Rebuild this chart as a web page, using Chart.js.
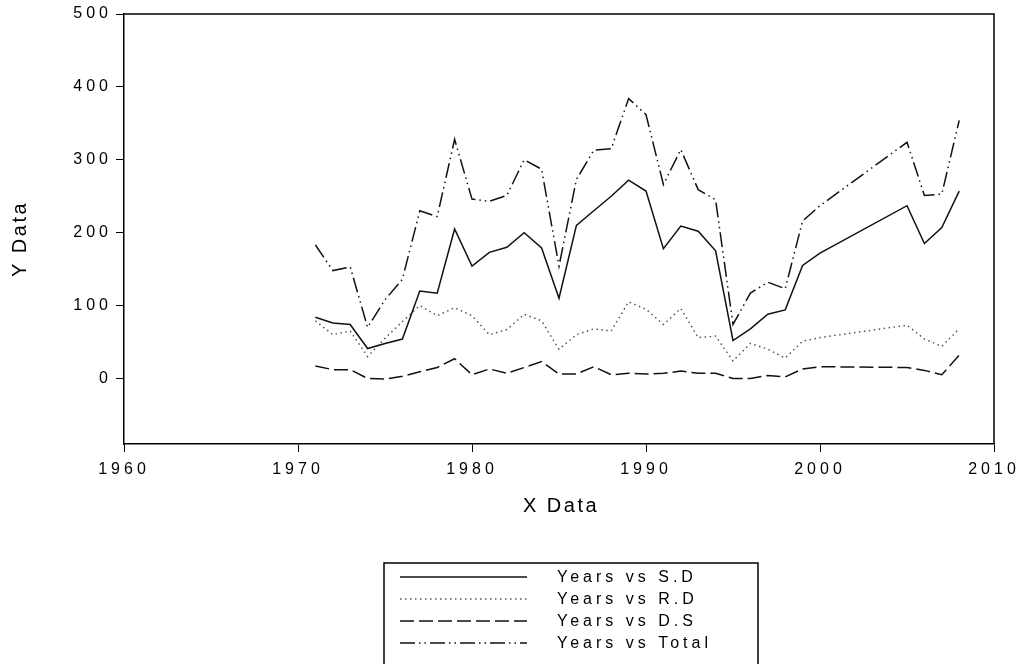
<!DOCTYPE html>
<html>
<head>
<meta charset="utf-8">
<script src="https://cdn.jsdelivr.net/npm/chart.js@4.4.1/dist/chart.umd.min.js"></script>
<style>
  body { margin: 0; background: #fff; }
  canvas { display: block; }
</style>
</head>
<body>
<canvas id="chart" width="1027" height="664"></canvas>
<script>
// data, 2001-2004 are missing in the source
const years = [1971, 1972, 1973, 1974, 1975, 1976, 1977, 1978, 1979, 1980,
               1981, 1982, 1983, 1984, 1985, 1986, 1987, 1988, 1989, 1990,
               1991, 1992, 1993, 1994, 1995, 1996, 1997, 1998, 1999, 2000,
               2005, 2006, 2007, 2008]
const sdValues = [84, 76, 74, 41, 48, 54, 120, 117, 205, 154,
                  173, 180, 200, 179, 110, 210, 230, 250, 272, 257,
                  178, 209, 202, 175, 52, 68, 88, 94, 155, 172,
                  237, 185, 207, 257]
const rdValues = [79, 60, 65, 30, 55, 78, 100, 86, 97, 86,
                  60, 67, 88, 79, 40, 60, 68, 65, 105, 95,
                  74, 96, 56, 58, 24, 48, 40, 28, 51, 56,
                  73, 54, 44, 68]
const dsValues = [17, 12, 12, 0, -1, 3, 9, 15, 27, 5,
                  13, 7, 15, 23, 6, 6, 16, 5, 7, 6,
                  7, 10, 7, 7, 0, 0, 4, 2, 13, 16,
                  15, 11, 5, 32]
const totalValues = [183, 148, 153, 70, 108, 136, 230, 222, 328, 246,
                     243, 251, 300, 287, 154, 273, 313, 315, 384, 362,
                     266, 314, 259, 245, 74, 117, 132, 123, 216, 237,
                     324, 251, 253, 354]
const yTicks = [0, 100, 200, 300, 400, 500]
const xTitle = 'X Data'
const yTitle = 'Y Data'

const toPoints = (vals) => years.map((yr, i) => ({x: yr, y: vals[i]}))

const FONT = '"Liberation Sans", Arial, sans-serif'

const framePlugin = {
    id: 'frame',
    beforeDraw(chart) {
        // wide tracking on the tick labels like the original
        chart.ctx.letterSpacing = '4px'
    },
    afterDraw(chart) {
        const ctx = chart.ctx
        const a = chart.chartArea
        ctx.save()
        ctx.letterSpacing = '0px'
        ctx.strokeStyle = '#000'
        ctx.lineWidth = 1.5
        ctx.beginPath()
        ctx.moveTo(a.left, a.top)
        ctx.lineTo(a.right, a.top)
        ctx.lineTo(a.right, a.bottom)
        ctx.stroke()

        // axis titles
        ctx.fillStyle = '#000'
        ctx.font = '20px ' + FONT
        ctx.letterSpacing = '2.5px'
        ctx.textAlign = 'center'
        ctx.textBaseline = 'middle'
        ctx.fillText(xTitle, 561, 506)
        ctx.save()
        ctx.translate(20, 239)
        ctx.rotate(-Math.PI / 2)
        ctx.fillText(yTitle, 0, 0)
        ctx.restore()

        // legend box
        const lx = 384, ly = 563, lw = 374
        ctx.lineWidth = 1.5
        ctx.beginPath()
        ctx.moveTo(lx, chart.height + 2)
        ctx.lineTo(lx, ly)
        ctx.lineTo(lx + lw, ly)
        ctx.lineTo(lx + lw, chart.height + 2)
        ctx.stroke()

        ctx.font = '16px ' + FONT
        ctx.letterSpacing = '4px'
        ctx.textAlign = 'left'
        chart.data.datasets.forEach((ds, i) => {
            const y = 577 + i * 22
            ctx.save()
            ctx.strokeStyle = ds.borderColor
            ctx.lineWidth = ds.borderWidth
            ctx.setLineDash(ds.borderDash || [])
            ctx.beginPath()
            ctx.moveTo(400, y)
            ctx.lineTo(527, y)
            ctx.stroke()
            ctx.restore()
            ctx.fillText(ds.label, 557, y + 1)
        })
        ctx.restore()
    }
}

new Chart(document.getElementById('chart'), {
    type: 'line',
    data: {
        datasets: [{
            label: 'Years vs S.D',
            data: toPoints(sdValues),
            borderColor: '#111',
            borderWidth: 1.5,
            borderDash: [],
        }, {
            label: 'Years vs R.D',
            data: toPoints(rdValues),
            borderColor: '#555',
            borderWidth: 1.5,
            borderDash: [1.5, 3.5],
        }, {
            label: 'Years vs D.S',
            data: toPoints(dsValues),
            borderColor: '#111',
            borderWidth: 1.5,
            borderDash: [14, 5],
        }, {
            label: 'Years vs Total',
            data: toPoints(totalValues),
            borderColor: '#111',
            borderWidth: 1.5,
            borderDash: [15, 4, 1.5, 4, 1.5, 4],
        }]
    },
    options: {
        responsive: false,
        animation: false,
        devicePixelRatio: 1,
        elements: {
            point: { radius: 0 },
            line: { tension: 0, fill: false }
        },
        layout: { padding: { left: 0, top: 14, right: 33, bottom: 0 } },
        plugins: {
            legend: { display: false },
            tooltip: { enabled: false }
        },
        scales: {
            x: {
                type: 'linear',
                min: 1960,
                max: 2010,
                afterFit: (scale) => { scale.height = 220 },
                border: { display: true, color: '#000', width: 1.5 },
                grid: { drawOnChartArea: false, drawTicks: true, tickLength: 8, color: '#000' },
                ticks: {
                    stepSize: 10,
                    color: '#000',
                    padding: 8,
                    maxRotation: 0,
                    font: { family: FONT, size: 16 },
                    callback: (v) => String(v)
                }
            },
            y: {
                min: -90,
                max: 500,
                afterFit: (scale) => { scale.width = 124 },
                afterBuildTicks: (scale) => { scale.ticks = yTicks.map(v => ({value: v})) },
                border: { display: true, color: '#000', width: 1.5 },
                grid: { drawOnChartArea: false, drawTicks: true, tickLength: 8, color: '#000' },
                ticks: {
                    color: '#000',
                    padding: 4,
                    font: { family: FONT, size: 16 },
                    callback: (v) => String(v)
                }
            }
        }
    },
    plugins: [framePlugin]
})
</script>
</body>
</html>
